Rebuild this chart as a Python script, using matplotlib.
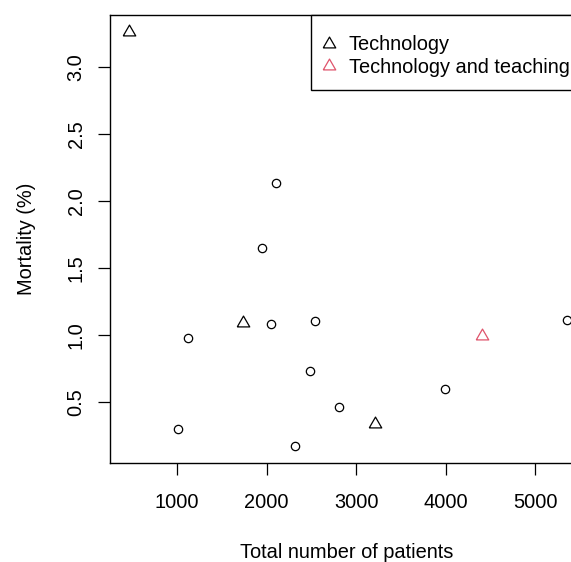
import matplotlib
matplotlib.use('Agg')
import matplotlib.pyplot as plt
from matplotlib.patches import Rectangle

plt.rcParams['font.family'] = ['Liberation Sans', 'DejaVu Sans']

# studies without intervention type (open circles)
other_patients = [2100, 1948, 2044, 1123, 1007, 2320, 2543, 5350, 2484, 2803, 3993]
other_mortality = [2.13, 1.65, 1.08, 0.98, 0.30, 0.17, 1.10, 1.11, 0.73, 0.46, 0.60]

# technology studies
tech_patients = [460, 1736, 3204]
tech_mortality = [3.27, 1.10, 0.35]

# technology and teaching
teach_patients = [4402]
teach_mortality = [1.01]

x_ticks = [1000, 2000, 3000, 4000, 5000]
y_ticks = [0.5, 1.0, 1.5, 2.0, 2.5, 3.0]
y_ticklabels = ['0.5', '1.0', '1.5', '2.0', '2.5', '3.0']

legend_labels = ['Technology', 'Technology and teaching']
legend_colors = ['black', '#DF536B']

W, H = 571, 562
fig = plt.figure(figsize=(W / 100, H / 100), dpi=100)
left, right, top, bottom = 110, 583, 15, 463
aw, ah = right - left, bottom - top
ax = fig.add_axes([left / W, 1 - bottom / H, aw / W, ah / H])

tri = [(-1, -0.866), (1, -0.866), (0, 0.866), (-1, -0.866)]
ax.plot(other_patients, other_mortality, 'o', ms=6, mfc='none', mec='black', mew=0.9,
        linestyle='none')
ax.plot(tech_patients, tech_mortality, marker=tri, ms=9, mfc='none', mec=legend_colors[0],
        mew=0.9, linestyle='none')
ax.plot(teach_patients, teach_mortality, marker=tri, ms=9, mfc='none', mec=legend_colors[1],
        mew=0.9, linestyle='none')

ax.set_xlim(253, 5530)
ax.set_ylim(0.045, 3.385)
ax.set_xticks(x_ticks)
ax.set_xticklabels([str(v) for v in x_ticks])
ax.set_yticks(y_ticks)
ax.set_yticklabels(y_ticklabels, rotation=90, va='center')
ax.tick_params(axis='both', length=8.6, width=0.9, labelsize=14.4, color='black')
ax.tick_params(axis='x', pad=13)
ax.tick_params(axis='y', pad=9)
for sp in ax.spines.values():
    sp.set_linewidth(1.0)

ax.set_xlabel('Total number of patients', fontsize=14.4)
ax.xaxis.set_label_coords((347 - left) / aw, -(543 - bottom) / ah)
ax.set_ylabel('Mortality (%)', fontsize=14.4)
ax.yaxis.set_label_coords((36 - left) / aw, 0.5)

# legend box in the R style (top right, running off the cropped edge)
lx0 = (311 - left) / aw
ax.add_patch(Rectangle((lx0, (bottom - 90) / ah), 1.2, (90 - top) / ah,
                       transform=ax.transAxes, facecolor='white', edgecolor='black',
                       linewidth=1.0, clip_on=False, zorder=5))
for i, (lab, col) in enumerate(zip(legend_labels, legend_colors)):
    ym = (bottom - (41.5 + 22.5 * i)) / ah
    yb = (bottom - (50.5 + 22.5 * i)) / ah
    ax.plot([(329 - left) / aw], [ym], marker=tri, ms=9, mfc='none', mec=col, mew=0.9,
            transform=ax.transAxes, clip_on=False, zorder=6)
    ax.text((349 - left) / aw, yb, lab, transform=ax.transAxes, fontsize=14.4,
            va='baseline', ha='left', zorder=6)

fig.savefig('out.png', dpi=100)
